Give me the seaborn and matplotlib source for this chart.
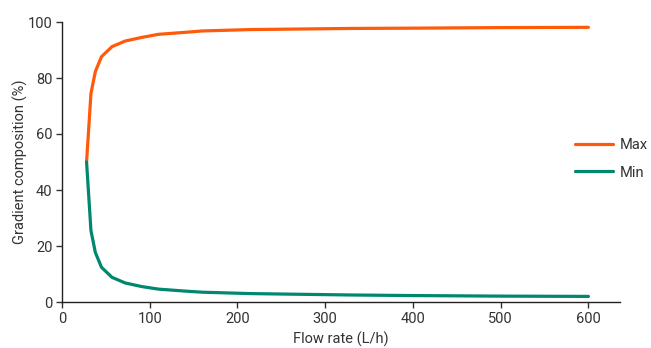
import matplotlib
matplotlib.use("Agg")
import matplotlib.pyplot as plt
import seaborn as sns
import pandas as pd
from matplotlib.lines import Line2D

flow_rate = [28, 33, 38, 45, 57, 72, 91, 110, 140, 160, 215, 330, 400, 500, 600]
max_values = [50, 74.5, 82.3, 87.6, 91.2, 93.2, 94.5, 95.6, 96.3, 96.8, 97.3, 97.7, 97.8, 98.0, 98.1]
min_values = [50, 25.5, 17.7, 12.4, 8.8, 6.8, 5.5, 4.6, 3.9, 3.5, 3.0, 2.5, 2.3, 2.1, 2.0]
series_names = ["Max", "Min"]
x_ticks = [0, 100, 200, 300, 400, 500, 600]
y_ticks = [0, 20, 40, 60, 80, 100]

sns.set_style("ticks")
plt.rcParams["font.family"] = ["Roboto", "DejaVu Sans"]
plt.rcParams["text.color"] = "#333333"
plt.rcParams["axes.labelcolor"] = "#333333"
plt.rcParams["xtick.color"] = "#333333"
plt.rcParams["ytick.color"] = "#333333"

df = pd.DataFrame({
    "Flow rate": flow_rate * 2,
    "value": max_values + min_values,
    "series": [series_names[0]] * len(flow_rate) + [series_names[1]] * len(flow_rate),
})

fig = plt.figure(figsize=(6.51, 3.48), dpi=100)
ax = fig.add_axes([62 / 651, 1 - 302 / 348, (620 - 62) / 651, 280 / 348])

palette = {"Max": "#FF5A0A", "Min": "#008770"}
sns.lineplot(data=df, x="Flow rate", y="value", hue="series", palette=palette,
             linewidth=2.3, ax=ax, legend=False, sort=False)

ax.set_xlim(0, 636)
ax.set_ylim(0, 100)
ax.set_xticks(x_ticks)
ax.set_yticks(y_ticks)
ax.set_xlabel("Flow rate (L/h)", fontsize=10.5, labelpad=4)
ax.set_ylabel("Gradient composition (%)", fontsize=10.5, labelpad=0)
ax.tick_params(axis="both", labelsize=10.5, length=4, width=1, direction="out", pad=3)
for side in ["top", "right"]:
    ax.spines[side].set_visible(False)
for side in ["left", "bottom"]:
    ax.spines[side].set_linewidth(1)
    ax.spines[side].set_color("#222222")

handles = [Line2D([0], [0], color=palette[n], linewidth=2.3) for n in series_names]
fig.legend(handles, series_names, loc="center left",
           bbox_to_anchor=(575 / 651, 1 - 159 / 348), frameon=False,
           borderpad=0, borderaxespad=0,
           fontsize=10.5, handlelength=2.6, handletextpad=0.45, labelspacing=0.9)

fig.savefig("out.png", dpi=100)
